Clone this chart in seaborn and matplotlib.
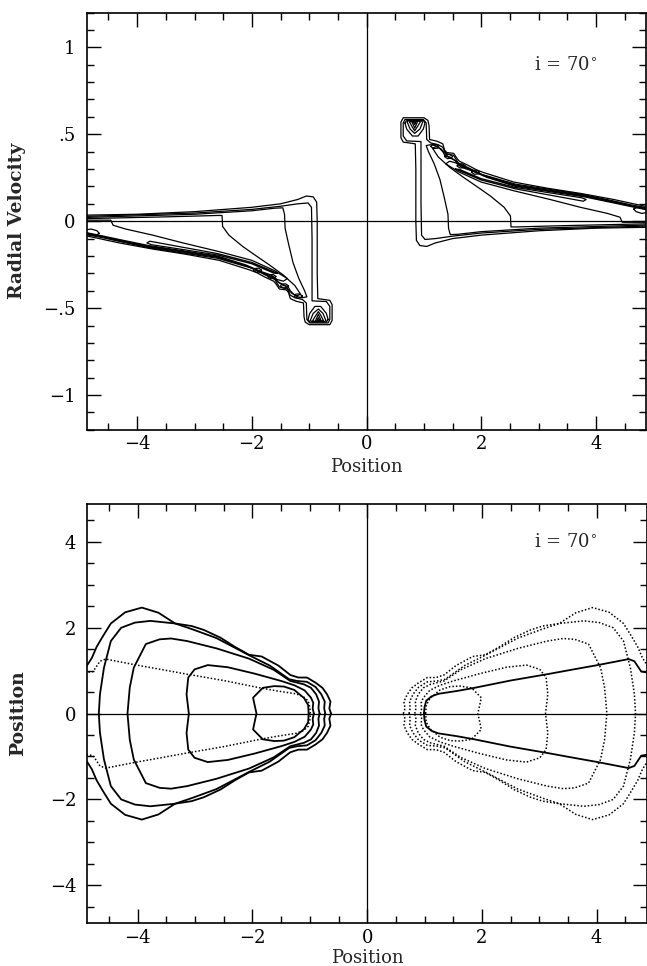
import numpy as np
import matplotlib
matplotlib.use("Agg")
import matplotlib.pyplot as plt
import seaborn as sns
from matplotlib.ticker import MultipleLocator, FixedLocator, FixedFormatter

sns.set_theme(style="white")
plt.rcParams['font.family'] = ['DejaVu Serif', 'DejaVu Sans']

# ---------------- top panel: position-velocity contours (right half, x>0) ----------------
# the left half is the same picture turned through 180 degrees: (x, v) -> (-x, -v)
t1_x = [4.88, 4.0, 3.0, 2.0, 1.5, 1.2, 1.05, 0.93, 0.87, 0.86, 0.86, 0.85, 0.75, 0.64, 0.60, 0.60, 0.64, 1.00,
        1.07, 1.09, 1.10, 1.23, 1.33, 1.36, 1.40, 1.52, 1.58, 1.62, 1.78, 1.92, 2.04, 2.57, 3.15, 3.73, 4.31, 4.66, 4.88]
t1_v = [-0.035, -0.04, -0.055, -0.08, -0.10, -0.125, -0.145, -0.14, -0.11, 0.0, 0.30, 0.445, 0.45, 0.455, 0.48,
        0.57, 0.595, 0.595, 0.58, 0.55, 0.47, 0.46, 0.445, 0.41, 0.395, 0.39, 0.36, 0.345, 0.32, 0.295, 0.28, 0.225,
        0.19, 0.16, 0.125, 0.10, 0.085]

t2_x = [4.88, 3.0, 2.0, 1.5, 1.2, 1.02, 0.96, 0.95, 0.95, 0.95, 0.70, 0.64, 0.64, 0.67, 0.99, 1.04, 1.05, 1.12,
        1.25, 1.33, 1.38, 1.52, 1.60, 1.76, 2.0, 2.6, 3.2, 3.8, 4.3, 4.60, 4.88]
t2_v = [-0.028, -0.047, -0.068, -0.086, -0.10, -0.105, -0.08, 0.1, 0.38, 0.458, 0.462, 0.49, 0.565, 0.585, 0.585,
        0.565, 0.47, 0.45, 0.44, 0.425, 0.39, 0.378, 0.335, 0.31, 0.27, 0.213, 0.183, 0.152, 0.117, 0.095, 0.078]

t3_x = [4.88, 3.0, 2.0, 1.6, 1.46, 1.43, 1.42, 1.36, 1.28, 1.18, 1.08, 1.04, 1.12, 1.20, 1.27, 1.33, 1.37, 1.45,
        1.52, 1.62, 1.80, 2.05, 2.6, 3.2, 3.8, 4.3, 4.6, 4.88]
t3_v = [-0.022, -0.04, -0.06, -0.075, -0.077, -0.04, 0.04, 0.13, 0.24, 0.33, 0.40, 0.435, 0.44, 0.435, 0.42, 0.40,
        0.375, 0.37, 0.355, 0.325, 0.30, 0.263, 0.208, 0.178, 0.148, 0.113, 0.09, 0.072]

t4_x = [4.88, 3.5, 2.6, 2.52, 2.51, 2.40, 2.16, 1.90, 1.70, 1.45, 1.25, 1.15, 1.22, 1.30, 1.36, 1.42, 1.54, 1.64,
        1.82, 2.08, 2.6, 3.2, 3.8, 4.3, 4.6, 4.88]
t4_v = [-0.015, -0.025, -0.033, -0.033, 0.03, 0.08, 0.145, 0.205, 0.25, 0.31, 0.37, 0.42, 0.43, 0.415, 0.395, 0.37,
        0.35, 0.32, 0.295, 0.258, 0.204, 0.174, 0.144, 0.11, 0.088, 0.069]

t5_x = [4.88, 4.46, 4.42, 4.2, 3.73, 3.2, 2.57, 2.0, 1.6, 1.38, 1.45, 1.56, 1.66, 1.85, 2.1, 2.6, 3.2, 3.8, 4.3,
        4.6, 4.88]
t5_v = [-0.006, -0.006, 0.023, 0.045, 0.08, 0.125, 0.175, 0.225, 0.285, 0.33, 0.345, 0.335, 0.31, 0.288, 0.252,
        0.2, 0.17, 0.14, 0.106, 0.085, 0.066]

t6_x = [1.55, 2.0, 2.6, 3.2, 3.78, 3.83, 3.75, 3.2, 2.6, 2.0, 1.62, 1.55]
t6_v = [0.30, 0.237, 0.186, 0.15, 0.115, 0.125, 0.135, 0.163, 0.194, 0.245, 0.298, 0.30]

# nested peak contours inside the box at the top of the curve
box_x = [[0.67, 0.70, 0.80, 0.90, 0.99, 1.02, 0.99, 0.70, 0.67],
         [0.71, 0.76, 0.84, 0.93, 0.98, 0.95, 0.73, 0.71],
         [0.75, 0.80, 0.84, 0.88, 0.94, 0.90, 0.78, 0.75],
         [0.79, 0.82, 0.84, 0.86, 0.89, 0.84, 0.79],
         [0.815, 0.84, 0.865, 0.815]]
box_v = [[0.565, 0.53, 0.49, 0.49, 0.53, 0.565, 0.58, 0.58, 0.565],
         [0.57, 0.53, 0.505, 0.53, 0.57, 0.578, 0.578, 0.57],
         [0.572, 0.54, 0.52, 0.54, 0.572, 0.576, 0.576, 0.572],
         [0.573, 0.55, 0.535, 0.55, 0.573, 0.576, 0.573],
         [0.57, 0.555, 0.57, 0.57]]

# small closed loops at the steps of the upper ridge
loop_x = [[1.12, 1.15, 1.21, 1.26, 1.24, 1.17, 1.12],
          [1.36, 1.39, 1.45, 1.50, 1.48, 1.41, 1.36],
          [1.58, 1.61, 1.67, 1.72, 1.70, 1.63, 1.58],
          [1.83, 1.86, 1.92, 1.97, 1.95, 1.88, 1.83],
          [4.66, 4.72, 4.82, 4.90, 4.90, 4.80, 4.70, 4.66]]
loop_v = [[0.43, 0.44, 0.442, 0.432, 0.42, 0.418, 0.43],
          [0.372, 0.382, 0.384, 0.374, 0.362, 0.36, 0.372],
          [0.318, 0.328, 0.33, 0.32, 0.308, 0.306, 0.318],
          [0.282, 0.292, 0.294, 0.284, 0.272, 0.27, 0.282],
          [0.07, 0.08, 0.078, 0.072, 0.05, 0.045, 0.055, 0.07]]

# ---------------- bottom panel: sky contours (left half, upper branch; symmetric in y) ----------------
c1_x = [-0.63, -0.66, -0.64, -0.70, -0.78, -0.90, -1.05, -1.20, -1.34, -1.55, -1.84, -2.06, -2.30, -2.56, -2.85,
        -3.06, -3.35, -3.64, -3.93, -4.22, -4.47, -4.61, -4.72, -4.80, -4.92]
c1_y = [0.0, 0.12, 0.28, 0.45, 0.6, 0.72, 0.84, 0.84, 0.9, 1.12, 1.33, 1.37, 1.55, 1.77, 1.95, 2.04, 2.1, 2.35,
        2.47, 2.36, 2.1, 1.8, 1.55, 1.3, 1.05]
c2_x = [-0.73, -0.75, -0.74, -0.80, -0.90, -1.05, -1.22, -1.36, -1.70, -2.06, -2.63, -3.06, -3.35, -3.78, -4.05,
        -4.29, -4.47, -4.59, -4.66, -4.68]
c2_y = [0.0, 0.12, 0.28, 0.45, 0.62, 0.74, 0.76, 0.80, 1.12, 1.36, 1.76, 1.97, 2.10, 2.16, 2.12, 2.0, 1.69, 1.07,
        0.45, 0.0]
c3_x = [-0.83, -0.85, -0.84, -0.89, -0.98, -1.10, -1.34, -1.63, -2.06, -2.63, -3.14, -3.42, -3.62, -3.86, -4.07,
        -4.14, -4.18]
c3_y = [0.0, 0.12, 0.28, 0.45, 0.6, 0.68, 0.76, 1.02, 1.28, 1.52, 1.69, 1.75, 1.73, 1.62, 1.07, 0.61, 0.0]
c4_x = [-0.93, -0.95, -0.94, -0.98, -1.09, -1.27, -1.50, -1.96, -2.43, -2.78, -3.01, -3.12, -3.15, -3.11]
c4_y = [0.0, 0.12, 0.25, 0.37, 0.54, 0.66, 0.76, 0.93, 1.08, 1.13, 1.03, 0.84, 0.45, 0.0]
c5_x = [-1.02, -1.03, -1.10, -1.27, -1.45, -1.62, -1.82, -1.99, -1.96, -1.93]
c5_y = [0.0, 0.2, 0.36, 0.55, 0.63, 0.64, 0.60, 0.37, 0.18, 0.0]

# wedge of the other component (right half, upper branch)
w_x = [0.99, 1.0, 1.03, 1.12, 1.24, 1.58, 1.87, 2.5, 3.15, 3.6, 4.02, 4.56, 4.66, 4.72, 4.78, 4.92]
w_y = [0.0, 0.15, 0.30, 0.40, 0.46, 0.53, 0.60, 0.77, 0.92, 1.03, 1.13, 1.27, 1.22, 1.10, 0.98, 0.95]

inc_label = r"i = 70$^{\circ}$"


def draw(ax, x, y, ls="-", lw=1.0):
    sns.lineplot(x=x, y=y, sort=False, estimator=None, color="black", lw=lw, ls=ls, ax=ax)


def both_branches(x, y):
    # upper branch plus its reflection below the axis, as one closed path
    x = np.asarray(x, float)
    y = np.asarray(y, float)
    return np.concatenate([x, x[::-1]]), np.concatenate([y, -y[::-1]])


def style(ax, xminor, ymajor, yminor):
    ax.set_xlim(-4.88, 4.88)
    ax.xaxis.set_major_locator(MultipleLocator(2))
    ax.xaxis.set_minor_locator(MultipleLocator(xminor))
    ax.yaxis.set_minor_locator(MultipleLocator(yminor))
    ax.tick_params(which="both", direction="in", top=True, right=True, bottom=True, left=True,
                   colors="black", labelsize=13, width=1.0)
    ax.tick_params(which="major", length=10)
    ax.tick_params(which="minor", length=5)
    ax.tick_params(axis="x", pad=4)
    ax.tick_params(axis="y", pad=8)
    ax.set_xticks([-4, -2, 0, 2, 4])
    ax.set_xticklabels(["\u22124", "\u22122", "0", "2", "4"])
    for s in ax.spines.values():
        s.set_color("black")
        s.set_linewidth(1.2)
        s.set_visible(True)
    ax.axhline(0, color="black", lw=0.9)
    ax.axvline(0, color="black", lw=0.9)
    ax.set_xlabel("Position", fontsize=13)
    ax.xaxis.set_label_coords(0.5, -0.068)
    ax.grid(False)


fig = plt.figure(figsize=(6.47, 9.66), dpi=100)
ax1 = fig.add_axes([0.134, 0.555, 0.865, 0.432])
ax2 = fig.add_axes([0.135, 0.0445, 0.865, 0.4336])

# top panel
top_x = [t1_x, t2_x, t3_x, t4_x, t5_x, t6_x] + box_x + loop_x
top_v = [t1_v, t2_v, t3_v, t4_v, t5_v, t6_v] + box_v + loop_v
for xs, vs in zip(top_x, top_v):
    xs = np.asarray(xs, float)
    vs = np.asarray(vs, float)
    draw(ax1, xs, vs, lw=0.9)
    draw(ax1, -xs, -vs, lw=0.9)

style(ax1, 0.5, 0.5, 0.1)
ax1.set_ylim(-1.2, 1.2)
ax1.yaxis.set_major_locator(FixedLocator([-1, -0.5, 0, 0.5, 1]))
ax1.yaxis.set_major_formatter(FixedFormatter(["\u22121", "\u2212.5", "0", ".5", "1"]))
ax1.set_ylabel("Radial Velocity", fontsize=13.5, fontweight="bold")
ax1.yaxis.set_label_coords(-0.108, 0.5)
ax1.text(4.02, 0.9, inc_label, fontsize=13, ha="right", va="center")

# bottom panel
for cx, cy in [(c1_x, c1_y), (c2_x, c2_y), (c3_x, c3_y), (c4_x, c4_y), (c5_x, c5_y)]:
    bx, by = both_branches(cx, cy)
    draw(ax2, bx, by, lw=1.3)
    draw(ax2, -bx, by, ls=(0, (1, 1.3)), lw=1.1)
wx, wy = both_branches(w_x, w_y)
draw(ax2, wx, wy, lw=1.3)
draw(ax2, -wx, wy, ls=(0, (1, 1.3)), lw=1.1)

style(ax2, 0.5, 2, 0.5)
ax2.set_ylim(-4.88, 4.88)
ax2.yaxis.set_major_locator(FixedLocator([-4, -2, 0, 2, 4]))
ax2.yaxis.set_major_formatter(FixedFormatter(["\u22124", "\u22122", "0", "2", "4"]))
ax2.set_ylabel("Position", fontsize=13.5, fontweight="bold")
ax2.yaxis.set_label_coords(-0.108, 0.5)
ax2.xaxis.set_label_coords(0.5, -0.062)
ax2.text(4.02, 4.0, inc_label, fontsize=13, ha="right", va="center")

fig.savefig("out.png", dpi=100)
